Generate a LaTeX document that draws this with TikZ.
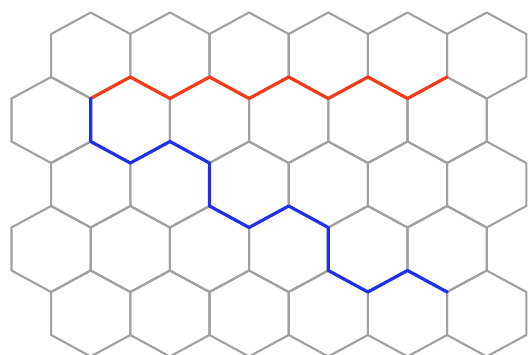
\documentclass[tikz,border=0pt]{standalone}
\usepackage{tikz}
\definecolor{GridGray}{HTML}{A0A0A0}
\definecolor{PathRed}{HTML}{F43A16}
\definecolor{PathBlue}{HTML}{1F30E8}
\tikzset{hexcell/.style={draw=GridGray,line width=2.1pt,line join=round}}
\tikzset{hexpath/.style={line width=3.2pt,line join=round,line cap=round}}

\begin{document}
\begin{tikzpicture}[x=39.6pt,y=-21.5pt]
  \useasboundingbox (-11.5pt,12.5pt) rectangle (516.5pt,-341.5pt);
  \clip (-11.5pt,12.5pt) rectangle (516.5pt,-341.5pt);
  % honeycomb, odd rows shifted to the right
  \foreach \r in {0,...,4}{
    \foreach \c in {0,...,5}{
      \pgfmathsetmacro{\cx}{2*\c+2-mod(\r,2)}
      \pgfmathsetmacro{\cy}{3*\r}
      \draw[hexcell] (\cx,\cy) -- ++(1,1) -- ++(0,2) -- ++(-1,1)
        -- ++(-1,-1) -- ++(0,-2) -- cycle;
    }
  }
  \draw[hexpath,PathRed] (2,4) -- (3,3) -- (4,4) -- (5,3) -- (6,4) -- (7,3)
    -- (8,4) -- (9,3) -- (10,4) -- (11,3);
  \draw[hexpath,PathBlue] (2,4) -- (2,6) -- (3,7) -- (4,6) -- (5,7) -- (5,9)
    -- (6,10) -- (7,9) -- (8,10) -- (8,12) -- (9,13) -- (10,12) -- (11,13);
\end{tikzpicture}
\end{document}
